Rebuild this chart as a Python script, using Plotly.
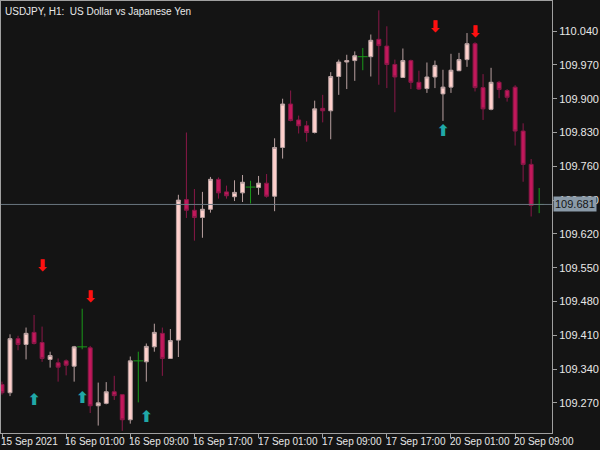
import plotly.graph_objects as go

# hourly bars, USDJPY H1
bar_open = [109.308, 109.291, 109.403, 109.391, 109.416, 109.395, 109.360, 109.353, 109.357, 109.346,
            109.386, 109.384, 109.264, 109.269, 109.293, 109.287, 109.235, 109.357, 109.355, 109.386,
            109.414, 109.362, 109.400, 109.691, 109.669, 109.654, 109.671, 109.733, 109.707, 109.697,
            109.705, 109.717, 109.716, 109.725, 109.698, 109.799, 109.889, 109.856, 109.844, 109.830,
            109.880, 109.875, 109.946, 109.976, 109.979, 109.987, 109.987, 110.023, 110.009, 109.971,
            109.944, 109.979, 109.934, 109.921, 109.945, 109.910, 109.924, 109.958, 109.981, 110.014,
            109.923, 109.878, 109.934, 109.917, 109.924, 109.833, 109.764, 109.681]
bar_high = [109.314, 109.412, 109.409, 109.426, 109.452, 109.428, 109.376, 109.362, 109.360, 109.388,
            109.465, 109.388, 109.312, 109.313, 109.326, 109.287, 109.366, 109.376, 109.393, 109.434,
            109.426, 109.423, 109.701, 109.830, 109.713, 109.707, 109.738, 109.737, 109.720, 109.731,
            109.742, 109.730, 109.740, 109.744, 109.818, 109.900, 109.917, 109.865, 109.854, 109.896,
            109.908, 109.955, 109.981, 109.991, 109.998, 110.005, 110.033, 110.083, 110.050, 109.981,
            110.004, 109.981, 109.958, 109.975, 109.979, 109.960, 109.993, 109.995, 110.036, 110.017,
            109.951, 109.964, 109.937, 109.920, 109.928, 109.849, 109.775, 109.715]
bar_low = [109.287, 109.284, 109.379, 109.360, 109.391, 109.355, 109.343, 109.314, 109.327, 109.314,
           109.381, 109.249, 109.223, 109.267, 109.276, 109.212, 109.227, 109.271, 109.314, 109.376,
           109.326, 109.361, 109.365, 109.653, 109.606, 109.612, 109.664, 109.693, 109.693, 109.688,
           109.686, 109.683, 109.701, 109.695, 109.667, 109.776, 109.853, 109.828, 109.811, 109.828,
           109.851, 109.816, 109.908, 109.920, 109.937, 109.959, 109.946, 109.929, 109.922, 109.872,
           109.943, 109.920, 109.918, 109.912, 109.922, 109.854, 109.912, 109.957, 109.966, 109.915,
           109.856, 109.876, 109.901, 109.894, 109.803, 109.728, 109.656, 109.663]
bar_close = [109.291, 109.403, 109.391, 109.414, 109.393, 109.362, 109.368, 109.344, 109.348, 109.386,
             109.386, 109.264, 109.270, 109.293, 109.285, 109.235, 109.357, 109.357, 109.387, 109.416,
             109.362, 109.399, 109.690, 109.669, 109.654, 109.671, 109.733, 109.705, 109.699, 109.706,
             109.727, 109.717, 109.725, 109.698, 109.799, 109.889, 109.855, 109.844, 109.830, 109.879,
             109.875, 109.946, 109.976, 109.979, 109.989, 109.987, 110.021, 110.010, 109.971, 109.945,
             109.979, 109.934, 109.920, 109.945, 109.969, 109.924, 109.959, 109.981, 110.014, 109.923,
             109.879, 109.934, 109.919, 109.903, 109.833, 109.764, 109.679, 109.681]

doji_bars = [10, 17, 31, 45, 67]

sell_bars = [5, 11, 54, 59]
sell_prices = [109.551, 109.488, 110.046, 110.036]
buy_bars = [4, 10, 18, 55]
buy_prices = [109.274, 109.278, 109.239, 109.832]

last_price = 109.681
ytick_vals = [109.270, 109.340, 109.410, 109.480, 109.550, 109.620, 109.690, 109.760,
              109.830, 109.900, 109.970, 110.040]
xtick_bars = [0, 8, 16, 24, 32, 40, 48, 56, 64]
xtick_text = ["15 Sep 2021", "16 Sep 01:00", "16 Sep 09:00", "16 Sep 17:00", "17 Sep 01:00",
              "17 Sep 09:00", "17 Sep 17:00", "20 Sep 01:00", "20 Sep 09:00"]

BG = "#141414"
BULL = "#ffd0cc"
BEAR = "#c2185b"
DOJI = "#1a9a1a"
FONT = "Liberation Sans, Arial, sans-serif"

idx = list(range(len(bar_open)))
normal = [i for i in idx if i not in doji_bars]

fig = go.Figure()
fig.add_trace(go.Candlestick(
    x=normal,
    open=[bar_open[i] for i in normal], high=[bar_high[i] for i in normal],
    low=[bar_low[i] for i in normal], close=[bar_close[i] for i in normal],
    increasing=dict(fillcolor=BULL, line=dict(color="#b8a0a0", width=1)),
    decreasing=dict(fillcolor=BEAR, line=dict(color="#8a1848", width=1)),
    whiskerwidth=0, showlegend=False, hoverinfo="skip",
))
# doji bars: green cross
fig.add_trace(go.Scatter(
    x=doji_bars, y=[bar_close[i] for i in doji_bars], mode="markers",
    marker=dict(symbol="line-ew", size=7, line=dict(color=DOJI, width=1)),
    error_y=dict(type="data", symmetric=False, width=0, thickness=1, color=DOJI,
                 array=[bar_high[i] - bar_close[i] for i in doji_bars],
                 arrayminus=[bar_close[i] - bar_low[i] for i in doji_bars]),
    showlegend=False, hoverinfo="skip",
))
fig.add_trace(go.Scatter(
    x=sell_bars, y=sell_prices, mode="text", text=["<b>⬇</b>"] * len(sell_bars),
    textfont=dict(family="DejaVu Sans", size=16, color="#ff1010"),
    showlegend=False, hoverinfo="skip",
))
fig.add_trace(go.Scatter(
    x=buy_bars, y=buy_prices, mode="text", text=["<b>⬆</b>"] * len(buy_bars),
    textfont=dict(family="DejaVu Sans", size=16, color="#20a8a8"),
    showlegend=False, hoverinfo="skip",
))

fig.add_hline(y=last_price, line=dict(color="#6a7680", width=1))

font = dict(family=FONT, size=11, color="#e8e8e8")
xfont = dict(family=FONT, size=10, color="#e8e8e8")
for b, t in zip(xtick_bars, xtick_text):
    fig.add_annotation(x=b, y=0, xref="x", yref="paper", yanchor="top", xanchor="left",
                       text=t, showarrow=False, font=xfont, xshift=-3, yshift=-1)
fig.add_annotation(x=1, y=last_price, xref="paper", yref="y", xanchor="left",
                   text=f"{last_price:.3f}", showarrow=False, bgcolor="#8a9aa8",
                   font=dict(family=FONT, size=11, color="#141414"),
                   xshift=1, borderpad=1)
fig.add_annotation(x=0, y=1, xref="paper", yref="paper", xanchor="left", yanchor="top",
                   text="USDJPY, H1:  US Dollar vs Japanese Yen", showarrow=False, font=xfont,
                   xshift=2, yshift=-3)

fig.update_layout(
    width=600, height=450, paper_bgcolor=BG, plot_bgcolor=BG,
    margin=dict(l=1, r=48, t=1, b=17),
    font=font,
    xaxis=dict(range=[-0.125, 68.6], showgrid=False, zeroline=False, rangeslider=dict(visible=False),
               tickvals=xtick_bars, showticklabels=False, ticks="outside", ticklen=4,
               tickcolor="#a0a0a0", showline=True, linecolor="#a0a0a0", mirror=True),
    yaxis=dict(range=[109.2076, 110.1024], side="right", showgrid=False, zeroline=False,
               tickvals=ytick_vals, ticktext=[f"{v:.3f}" for v in ytick_vals],
               ticks="outside", ticklen=4, tickcolor="#a0a0a0",
               showline=True, linecolor="#a0a0a0", mirror=True),
)

fig.write_html("out.html", config={"displayModeBar": False},
               post_script="document.body.style.margin='0';")
